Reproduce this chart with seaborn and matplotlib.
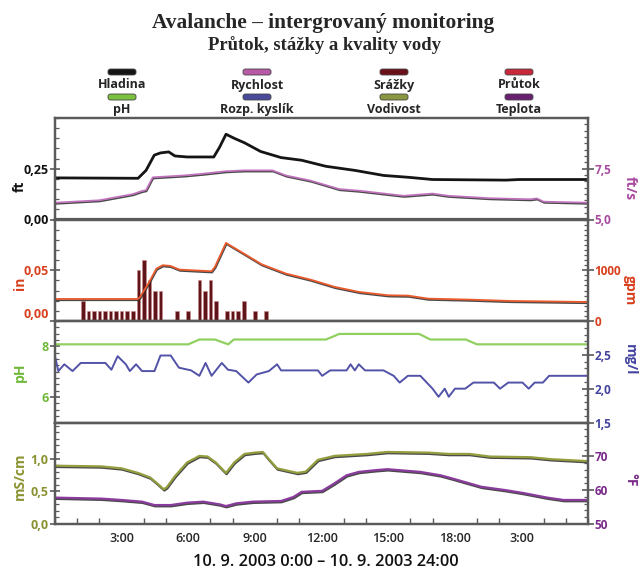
import numpy as np
import matplotlib
matplotlib.use('Agg')
import matplotlib.pyplot as plt
import matplotlib.patheffects as pe
from matplotlib.patches import FancyBboxPatch
from matplotlib.ticker import MultipleLocator
import seaborn as sns

# ---- data (hours since 0:00) ----
level_h = [0, 3.74, 4.1, 4.47, 4.75, 5.12, 5.4, 5.95, 7.15, 7.42, 7.7, 8.07, 8.53, 9.26,
           10.18, 11.1, 12.2, 13.5, 14.8, 15.9, 17.0, 20.3, 20.9, 24]
level_ft = [0.205, 0.203, 0.242, 0.317, 0.328, 0.333, 0.313, 0.308, 0.308, 0.358, 0.42, 0.40,
            0.378, 0.335, 0.305, 0.292, 0.262, 0.242, 0.217, 0.208, 0.197, 0.194, 0.197, 0.197]

speed_h = [0, 2.0, 3.5, 3.9, 4.1, 4.4, 5.8, 6.6, 7.7, 8.5, 9.8, 10.4, 11.5, 12.8, 13.7,
           15.7, 17.0, 17.7, 19.6, 21.4, 21.7, 22.0, 24]
speed_fts = [5.83, 5.95, 6.25, 6.4, 6.45, 7.08, 7.17, 7.25, 7.38, 7.42, 7.42, 7.17, 6.92, 6.5,
             6.42, 6.17, 6.28, 6.17, 6.05, 6.0, 6.04, 5.88, 5.83]

rain_h = [1.25, 1.5, 1.75, 2.0, 2.25, 2.5, 2.75, 3.0, 3.25, 3.5, 3.75, 4.0, 4.25, 4.5, 4.75,
          5.5, 6.0, 6.5, 6.75, 7.0, 7.25, 7.75, 8.0, 8.25, 8.5, 9.0, 9.5]
rain_in = [0.02, 0.01, 0.01, 0.01, 0.01, 0.01, 0.01, 0.01, 0.01, 0.01, 0.05, 0.06, 0.04, 0.03,
           0.03, 0.01, 0.01, 0.04, 0.03, 0.04, 0.02, 0.01, 0.01, 0.01, 0.02, 0.01, 0.01]

flow_h = [0, 3.74, 3.83, 4.2, 4.57, 4.85, 5.2, 5.6, 7.05, 7.2, 7.7, 8.0, 8.5, 9.3, 10.4,
          11.5, 12.6, 13.7, 15.0, 15.9, 16.8, 18.7, 20.5, 24]
flow_gpm = [434, 434, 474, 737, 1033, 1099, 1085, 1013, 980, 1066, 1540, 1460, 1330, 1118, 934,
            816, 671, 572, 507, 500, 441, 421, 395, 375]

ph_h = [0, 6.0, 6.5, 7.2, 7.8, 8.05, 12.2, 12.8, 16.4, 16.9, 18.5, 19.0, 24]
ph_val = [8.08, 8.08, 8.27, 8.27, 8.08, 8.27, 8.27, 8.49, 8.49, 8.27, 8.27, 8.08, 8.08]

do_h = [0.0, 0.15, 0.42, 0.79, 1.16, 2.27, 2.54, 2.82, 3.19, 3.37, 3.65, 3.92, 4.48, 4.75,
        5.21, 5.58, 6.13, 6.5, 6.78, 7.05, 7.51, 7.79, 8.16, 8.71, 9.08, 9.63, 10.0, 10.18,
        11.84, 12.03, 12.39, 13.13, 13.31, 13.5, 13.68, 13.96, 14.79, 15.25, 15.52, 15.89,
        16.45, 17.0, 17.27, 17.55, 17.73, 18.01, 18.47, 18.84, 19.76, 20.04, 20.41, 21.05,
        21.33, 21.6, 21.97, 22.25, 24]
do_mgl = [2.48, 2.26, 2.36, 2.26, 2.38, 2.38, 2.28, 2.48, 2.36, 2.26, 2.36, 2.26, 2.26, 2.49,
          2.49, 2.31, 2.27, 2.19, 2.38, 2.19, 2.38, 2.28, 2.26, 2.09, 2.21, 2.26, 2.36, 2.27,
          2.27, 2.19, 2.27, 2.27, 2.36, 2.27, 2.36, 2.27, 2.27, 2.19, 2.09, 2.19,
          2.19, 2.0, 1.88, 2.0, 1.88, 2.0, 2.0, 2.09, 2.09, 2.0, 2.09, 2.09,
          2.0, 2.09, 2.09, 2.19, 2.19]

cond_h = [0, 2.08, 3.0, 3.74, 4.29, 4.57, 4.9, 5.03, 5.4, 5.95, 6.5, 6.87, 7.24, 7.7, 8.07,
          8.53, 8.99, 9.36, 9.63, 10.0, 10.92, 11.29, 11.84, 12.58, 14.05, 14.97, 16.81,
          17.73, 18.66, 19.58, 21.42, 22.34, 24]
cond_ms = [0.89, 0.88, 0.85, 0.78, 0.71, 0.63, 0.53, 0.56, 0.73, 0.94, 1.04, 1.03, 0.94, 0.78,
           0.94, 1.07, 1.09, 1.10, 0.99, 0.85, 0.78, 0.80, 0.98, 1.04, 1.07, 1.10, 1.09,
           1.07, 1.07, 1.03, 1.02, 0.99, 0.96]

temp_h = [0, 2.08, 3.0, 3.92, 4.48, 5.21, 5.95, 6.68, 7.42, 7.7, 8.16, 8.9, 10.18, 10.74,
          11.1, 12.03, 12.58, 13.13, 13.68, 14.42, 14.97, 15.52, 16.45, 17.36, 17.92, 19.2,
          20.3, 21.05, 22.16, 22.9, 24]
temp_f = [57.8, 57.5, 57.1, 56.6, 55.6, 55.6, 56.3, 56.6, 55.8, 55.3, 56.1, 56.6, 56.8, 58.0,
          59.5, 59.8, 62.0, 64.4, 65.4, 65.9, 66.2, 65.9, 65.4, 64.4, 63.4, 61.0,
          60.0, 59.2, 57.8, 57.1, 57.1]

x_ticks = [3, 6, 9, 12, 15, 18, 21]
x_labels = ['3:00', '6:00', '9:00', '12:00', '15:00', '18:00', '3:00']

# ---- colours ----
c_level = '#151515'
c_speed = '#c070bc'
c_rain = '#5e1418'
c_flow = '#ea5a2c'
c_ph = '#90d060'
c_do = '#5252a8'
c_cond = '#949e3e'
c_temp = '#8a3c9c'

sns.set_style('white')
plt.rcParams['font.family'] = ['Open Sans', 'DejaVu Sans']

W, H = 643, 569
fig = plt.figure(figsize=(W / 100, H / 100), dpi=100)

left_px, right_px, top_px, bot_px = 55, 588, 118, 524
ph_px = (bot_px - top_px) / 4
axes = []
for i in range(4):
    y0 = top_px + i * ph_px
    ax = fig.add_axes([left_px / W, 1 - (y0 + ph_px) / H, (right_px - left_px) / W, ph_px / H])
    axes.append(ax)
ax1, ax2, ax3, ax4 = axes
twins = [a.twinx() for a in axes]
tw1, tw2, tw3, tw4 = twins

shadow = [pe.SimpleLineShadow(offset=(0.4, -0.9), shadow_color='#2a2a2a', alpha=0.85), pe.Normal()]

# panel 1: water level + velocity
sns.lineplot(x=level_h, y=level_ft, ax=ax1, color=c_level, lw=2.0, sort=False)
sns.lineplot(x=speed_h, y=speed_fts, ax=tw1, color=c_speed, lw=1.2, sort=False, path_effects=shadow)
ax1.set_ylim(0, 0.5)
tw1.set_ylim(5, 10)

# panel 2: rain + flow
ax2.bar(rain_h, rain_in, width=0.16, color=c_rain, edgecolor='#c98a8a', linewidth=0.4)
sns.lineplot(x=flow_h, y=flow_gpm, ax=tw2, color=c_flow, lw=1.3, sort=False, path_effects=shadow)
ax2.set_ylim(0, 0.1)
tw2.set_ylim(0, 2000)

# panel 3: pH + dissolved oxygen
sns.lineplot(x=ph_h, y=ph_val, ax=ax3, color=c_ph, lw=1.6, sort=False)
sns.lineplot(x=do_h, y=do_mgl, ax=tw3, color=c_do, lw=1.4, sort=False)
ax3.set_ylim(5, 9)
tw3.set_ylim(1.5, 3.0)

# panel 4: conductivity + temperature
sns.lineplot(x=cond_h, y=cond_ms, ax=ax4, color=c_cond, lw=1.6, sort=False, path_effects=shadow)
sns.lineplot(x=temp_h, y=temp_f, ax=tw4, color=c_temp, lw=1.6, sort=False, path_effects=shadow)
ax4.set_ylim(0, 1.55)
tw4.set_ylim(50, 80)

ax1.set_yticks([0, 0.25], ['0,00', '0,25'])
tw1.set_yticks([5, 7.5], ['5,0', '7,5'])
ax2.set_yticks([0, 0.05], ['0,00', '0,05'])
tw2.set_yticks([0, 1000], ['0', '1000'])
ax3.set_yticks([6, 8], ['6', '8'])
tw3.set_yticks([1.5, 2.0, 2.5], ['1,5', '2,0', '2,5'])
ax4.set_yticks([0, 0.5, 1.0], ['0,0', '0,5', '1,0'])
tw4.set_yticks([50, 60, 70], ['50', '60', '70'])

ax1.yaxis.set_minor_locator(MultipleLocator(0.05))
tw1.yaxis.set_minor_locator(MultipleLocator(0.3125))
ax2.yaxis.set_minor_locator(MultipleLocator(0.01))
tw2.yaxis.set_minor_locator(MultipleLocator(100))
ax3.yaxis.set_minor_locator(MultipleLocator(0.25))
tw3.yaxis.set_minor_locator(MultipleLocator(0.1))
ax4.yaxis.set_minor_locator(MultipleLocator(0.1))
tw4.yaxis.set_minor_locator(MultipleLocator(2))

left_cols = ['#111111', '#d8401e', '#70b83a', '#8a9230']
right_cols = ['#a84aa0', '#d8401e', '#4444a0', '#7a2a8a']
spine_c = '#5a5a5a'
for a, t, lc, rc in zip(axes, twins, left_cols, right_cols):
    a.set_xlim(0, 24)
    a.set_xlabel('')
    a.set_ylabel('')
    t.set_ylabel('')
    a.tick_params(axis='y', which='major', direction='inout', length=7, width=1.2,
                  color=spine_c, labelcolor=lc, labelsize=9, pad=1)
    a.tick_params(axis='y', which='minor', direction='in', length=3, width=0.9, color=spine_c, left=True)
    t.tick_params(axis='y', which='major', direction='inout', length=9, width=1.2,
                  color=spine_c, labelcolor=rc, labelsize=8.5, pad=0)
    t.tick_params(axis='y', which='minor', direction='in', length=3, width=0.9, color=spine_c, right=True)
    for lab in a.get_yticklabels() + t.get_yticklabels():
        lab.set_fontweight('bold')
    for s in list(a.spines.values()) + list(t.spines.values()):
        s.set_color(spine_c)
        s.set_linewidth(1.6)
    if a is not ax4:
        a.tick_params(axis='x', which='both', bottom=False, labelbottom=False)

# raised zero label on the rain axis
ax2.get_yticklabels()[0].set_va('bottom')

ax4.set_xticks(x_ticks, x_labels)
ax4.xaxis.set_minor_locator(MultipleLocator(1))
ax4.tick_params(axis='x', which='major', direction='inout', length=9, width=1.2, color=spine_c,
                labelsize=9, pad=1)
ax4.tick_params(axis='x', which='minor', direction='in', length=4, width=1.0, color=spine_c, bottom=True)
for lab in ax4.get_xticklabels():
    lab.set_fontweight('semibold')

def px(x, y):
    return x / W, 1 - y / H

# axis titles
side_labels = [('ft', 20, 186, '#111111', 90), ('in', 20, 283, '#d8401e', 90),
               ('pH', 20, 372, '#70b83a', 90), ('mS/cm', 20, 476, '#8a9230', 90),
               ('ft/s', 630, 188, '#a84aa0', -90), ('gpm', 630, 290, '#d8401e', -90),
               ('mg/l', 630, 360, '#4444a0', -90), ('°F', 630, 480, '#7a2a8a', -90)]
for txt, x, y, c, rot in side_labels:
    fig.text(*px(x, y), txt, color=c, rotation=rot, ha='center', va='center',
             fontsize=10, fontweight='bold')

# titles
fig.text(*px(323, 23), 'Avalanche – intergrovaný monitoring', ha='center', va='center',
         fontsize=15.4, fontweight='bold', family='Liberation Serif')
fig.text(*px(325, 45), 'Průtok, stážky a kvality vody', ha='center', va='center',
         fontsize=13.4, fontweight='bold', family='Liberation Serif')
fig.text(*px(326, 562), '10. 9. 2003 0:00 – 10. 9. 2003 24:00', ha='center', va='center',
         fontsize=11.8, fontweight='semibold', color='#111111')

# legend: swatch above label
leg_names = [['Hladina', 'Rychlost', 'Srážky', 'Průtok'],
             ['pH', 'Rozp. kyslík', 'Vodivost', 'Teplota']]
leg_cols = [['#151515', '#b85aa6', '#6a1018', '#c8283a'],
            ['#7cc040', '#4a4a9a', '#8a9640', '#6a2070']]
col_x = [122, 257, 394, 519]
for r, (sw_y, lab_y) in enumerate([(72, 85), (97, 109)]):
    for c, cx in enumerate(col_x):
        sw_w, sw_h = 28, 6
        x0, y0 = px(cx - sw_w / 2, sw_y + sw_h / 2)
        fig.add_artist(FancyBboxPatch((x0, y0), sw_w / W, sw_h / H,
                                      boxstyle='round,pad=0,rounding_size=0.004',
                                      transform=fig.transFigure, facecolor=leg_cols[r][c],
                                      edgecolor='#444444', linewidth=0.6))
        fig.text(*px(cx, lab_y), leg_names[r][c], ha='center', va='center',
                 fontsize=9, fontweight='bold')

fig.savefig('out.png', dpi=100)
